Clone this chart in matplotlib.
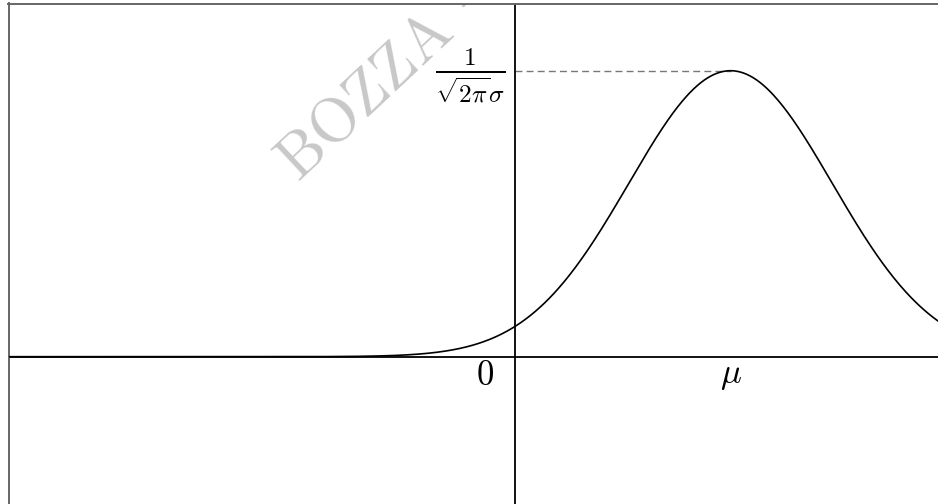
import numpy as np
import matplotlib.pyplot as plt

plt.rcParams['mathtext.fontset'] = 'cm'
plt.rcParams['font.family'] = ['DejaVu Serif']

# parametri della gaussiana (unità del disegno)
mu = 2.12
sigma = 1.0
x_min, x_max = -4.98, 4.16
y_min, y_max = -0.2055, 0.4927

peak = 1 / (np.sqrt(2 * np.pi) * sigma)
x = np.linspace(x_min, x_max, 800)
y = peak * np.exp(-(x - mu) ** 2 / (2 * sigma ** 2))

fig = plt.figure(figsize=(9.38, 5.04), dpi=100)
ax = fig.add_axes([8.5 / 938, 0, 1 - 8.5 / 938, 500.5 / 504])
ax.set_xlim(x_min, x_max)
ax.set_ylim(y_min, y_max)
ax.set_xticks([])
ax.set_yticks([])
for s in ['right', 'bottom']:
    ax.spines[s].set_visible(False)
for s in ['left', 'top']:
    ax.spines[s].set_color('#666666')
    ax.spines[s].set_linewidth(1.4)

# filigrana
ax.text(-2.134, 0.2423, r'$\mathrm{BOZZA}$ $-$', fontsize=45, color='#c8c8c8',
        rotation=43, rotation_mode='anchor', ha='left', va='baseline', zorder=0,
        clip_on=True)

# assi
ax.axhline(0, color='black', lw=1.3, zorder=2)
ax.axvline(0, color='black', lw=1.3, zorder=2)

# curva
ax.plot(x, y, color='black', lw=1.2, zorder=3)
ax.plot([0, mu], [peak, peak], color='#777777', lw=1.0, dashes=(5, 3), zorder=1)

ax.text(-0.098, peak - 0.008, r'$\frac{1}{\sqrt{2\pi}\sigma}$', fontsize=26,
        ha='right', va='center')
ax.text(-0.295, -0.0255, r'$0$', fontsize=25, ha='center', va='center')
ax.text(mu, -0.0255, r'$\mu$', fontsize=25, ha='center', va='center')

fig.savefig('out.png', dpi=100)
